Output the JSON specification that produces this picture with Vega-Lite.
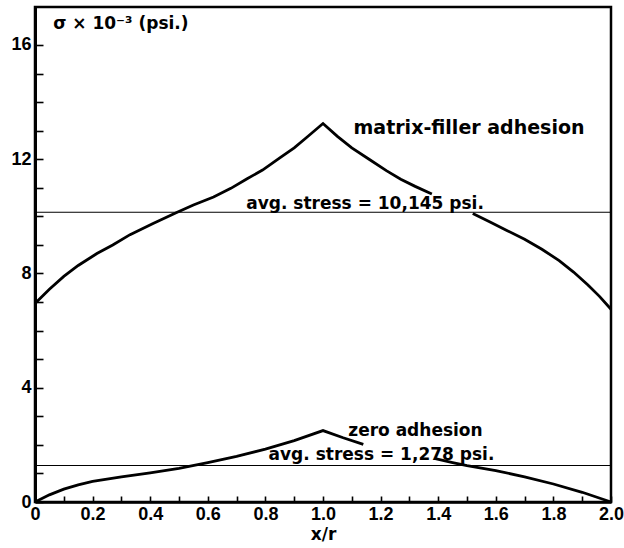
{
  "$schema": "https://vega.github.io/schema/vega-lite/v6.json",
  "width": 576,
  "height": 495,
  "autosize": "none",
  "padding": {"left": 35, "top": 7, "right": 13, "bottom": 46},
  "background": "white",
  "config": {
    "view": {"stroke": "black", "strokeWidth": 2.5},
    "axis": {
      "grid": false,
      "domainColor": "black",
      "domainWidth": 2.5,
      "tickColor": "black",
      "tickWidth": 1.6,
      "labelColor": "black",
      "labelFont": "Liberation Sans",
      "labelFontWeight": "bold",
      "labelFontSize": 18,
      "titleColor": "black",
      "titleFont": "DejaVu Sans",
      "titleFontWeight": "bold",
      "labelFlush": false,
      "labelOverlap": false
    }
  },
  "datasets": {
    "curves": [
      {"x": 0.0, "y": 6.95, "seg": "u1"},
      {"x": 0.05, "y": 7.45, "seg": "u1"},
      {"x": 0.1, "y": 7.9, "seg": "u1"},
      {"x": 0.15, "y": 8.28, "seg": "u1"},
      {"x": 0.215, "y": 8.7, "seg": "u1"},
      {"x": 0.27, "y": 9.0, "seg": "u1"},
      {"x": 0.33, "y": 9.36, "seg": "u1"},
      {"x": 0.41, "y": 9.75, "seg": "u1"},
      {"x": 0.49, "y": 10.13, "seg": "u1"},
      {"x": 0.55, "y": 10.4, "seg": "u1"},
      {"x": 0.62, "y": 10.68, "seg": "u1"},
      {"x": 0.68, "y": 10.98, "seg": "u1"},
      {"x": 0.735, "y": 11.31, "seg": "u1"},
      {"x": 0.79, "y": 11.62, "seg": "u1"},
      {"x": 0.85, "y": 12.05, "seg": "u1"},
      {"x": 0.9, "y": 12.4, "seg": "u1"},
      {"x": 0.944, "y": 12.77, "seg": "u1"},
      {"x": 1.0, "y": 13.25, "seg": "u1"},
      {"x": 1.05, "y": 12.8, "seg": "u1"},
      {"x": 1.1, "y": 12.4, "seg": "u1"},
      {"x": 1.16, "y": 12.0, "seg": "u1"},
      {"x": 1.22, "y": 11.6, "seg": "u1"},
      {"x": 1.27, "y": 11.3, "seg": "u1"},
      {"x": 1.32, "y": 11.05, "seg": "u1"},
      {"x": 1.378, "y": 10.78, "seg": "u1"},
      {"x": 1.52, "y": 10.1, "seg": "u2"},
      {"x": 1.58, "y": 9.8, "seg": "u2"},
      {"x": 1.64, "y": 9.5, "seg": "u2"},
      {"x": 1.7, "y": 9.2, "seg": "u2"},
      {"x": 1.76, "y": 8.85, "seg": "u2"},
      {"x": 1.82, "y": 8.45, "seg": "u2"},
      {"x": 1.87, "y": 8.05, "seg": "u2"},
      {"x": 1.92, "y": 7.6, "seg": "u2"},
      {"x": 1.96, "y": 7.2, "seg": "u2"},
      {"x": 2.0, "y": 6.75, "seg": "u2"},
      {"x": 0.0, "y": 0.0, "seg": "l1"},
      {"x": 0.05, "y": 0.25, "seg": "l1"},
      {"x": 0.1, "y": 0.45, "seg": "l1"},
      {"x": 0.15, "y": 0.6, "seg": "l1"},
      {"x": 0.2, "y": 0.72, "seg": "l1"},
      {"x": 0.3, "y": 0.88, "seg": "l1"},
      {"x": 0.4, "y": 1.02, "seg": "l1"},
      {"x": 0.5, "y": 1.18, "seg": "l1"},
      {"x": 0.6, "y": 1.38, "seg": "l1"},
      {"x": 0.7, "y": 1.6, "seg": "l1"},
      {"x": 0.8, "y": 1.85, "seg": "l1"},
      {"x": 0.9, "y": 2.15, "seg": "l1"},
      {"x": 1.0, "y": 2.5, "seg": "l1"},
      {"x": 1.07, "y": 2.25, "seg": "l1"},
      {"x": 1.14, "y": 2.02, "seg": "l1"},
      {"x": 1.39, "y": 1.52, "seg": "l2"},
      {"x": 1.45, "y": 1.38, "seg": "l2"},
      {"x": 1.5, "y": 1.27, "seg": "l2"},
      {"x": 1.6, "y": 1.1, "seg": "l2"},
      {"x": 1.7, "y": 0.88, "seg": "l2"},
      {"x": 1.8, "y": 0.63, "seg": "l2"},
      {"x": 1.9, "y": 0.34, "seg": "l2"},
      {"x": 2.0, "y": 0.0, "seg": "l2"}
    ],
    "avg": [
      {"x": 0, "y": 10.145, "seg": "a1"},
      {"x": 2, "y": 10.145, "seg": "a1"},
      {"x": 0, "y": 1.278, "seg": "a2"},
      {"x": 2, "y": 1.278, "seg": "a2"}
    ],
    "labels": [
      {"x": 1.146, "y": 10.44, "label": "avg. stress = 10,145 psi."},
      {"x": 1.321, "y": 2.49, "label": "zero adhesion"},
      {"x": 1.203, "y": 1.66, "label": "avg. stress = 1,278 psi."}
    ],
    "toplabel": [
      {"x": 1.507, "y": 13.1, "label": "matrix-filler adhesion"}
    ],
    "ytitle": [
      {"x": 0.063, "y": 16.74, "label": "σ × 10⁻³ (psi.)"}
    ]
  },
  "encoding": {
    "x": {
      "field": "x",
      "type": "quantitative",
      "scale": {"domain": [0, 2], "nice": false, "zero": false},
      "axis": {
        "title": "x/r",
        "titleFontSize": 17,
        "titlePadding": 3,
        "values": [0, 0.1, 0.2, 0.3, 0.4, 0.5, 0.6, 0.7, 0.8, 0.9, 1.0, 1.1, 1.2, 1.3, 1.4, 1.5, 1.6, 1.7, 1.8, 1.9, 2.0],
        "labelExpr": "round(datum.value * 10) % 2 == 0 ? (datum.value == 0 ? '0' : format(datum.value, '.1f')) : ''",
        "tickSize": -6,
        "labelPadding": 9
      }
    },
    "y": {
      "field": "y",
      "type": "quantitative",
      "scale": {"domain": [0, 17.33], "nice": false, "zero": false},
      "axis": {
        "title": null,
        "values": [0, 1, 2, 3, 4, 5, 6, 7, 8, 9, 10, 11, 12, 13, 14, 15, 16],
        "labelExpr": "datum.value % 4 == 0 ? datum.label : ''",
        "tickSize": -8,
        "labelPadding": 12,
        "domainWidth": 3
      }
    }
  },
  "layer": [
    {
      "data": {"name": "avg"},
      "mark": {"type": "line", "color": "black", "strokeWidth": 1.2},
      "encoding": {"detail": {"field": "seg"}}
    },
    {
      "data": {"name": "curves"},
      "mark": {"type": "line", "color": "black", "strokeWidth": 2.8},
      "encoding": {"detail": {"field": "seg"}}
    },
    {
      "data": {"name": "labels"},
      "mark": {"type": "text", "font": "DejaVu Sans", "fontWeight": "bold", "fontSize": 17, "color": "black", "align": "center", "baseline": "middle"},
      "encoding": {"text": {"field": "label"}}
    },
    {
      "data": {"name": "toplabel"},
      "mark": {"type": "text", "font": "DejaVu Sans", "fontWeight": "bold", "fontSize": 19, "color": "black", "align": "center", "baseline": "middle"},
      "encoding": {"text": {"field": "label"}}
    },
    {
      "data": {"name": "ytitle"},
      "mark": {"type": "text", "font": "DejaVu Sans", "fontWeight": "bold", "fontSize": 17, "color": "black", "align": "left", "baseline": "middle"},
      "encoding": {"text": {"field": "label"}}
    }
  ]
}
